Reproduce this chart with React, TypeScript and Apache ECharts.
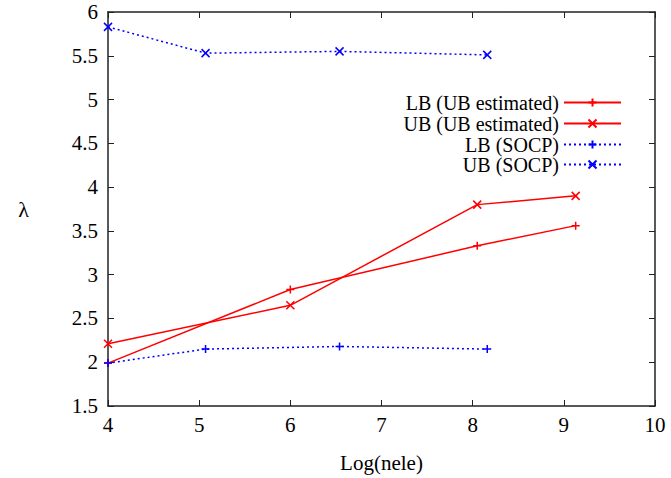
import React, { useEffect, useRef } from "react";
import * as echarts from "echarts";

const lbEstX = [4, 6, 8.05, 9.13];
const lbEstY = [1.99, 2.83, 3.33, 3.56];
const ubEstX = [4, 6, 8.05, 9.13];
const ubEstY = [2.21, 2.65, 3.8, 3.9];
const lbSocpX = [4, 5.07, 6.54, 8.16];
const lbSocpY = [1.99, 2.15, 2.18, 2.15];
const ubSocpX = [4, 5.07, 6.54, 8.16];
const ubSocpY = [5.83, 5.53, 5.55, 5.51];

const seriesNames = ["LB (UB estimated)", "UB (UB estimated)", "LB (SOCP)", "UB (SOCP)"];

const PLUS = "path://M0,-5L0,5M-5,0L5,0";
const CROSS = "path://M-5,-5L5,5M-5,5L5,-5";

export default function App() {
  const ref = useRef<HTMLDivElement>(null);
  useEffect(() => {
    if (!ref.current) return;
    const chart = echarts.init(ref.current, undefined, { renderer: "svg" });
    const font = "Liberation Serif";
    const axisLine = { lineStyle: { color: "#222", width: 1.5 } };
    const mk = (name: string, xs: number[], ys: number[], color: string, symbol: string, type: string) => ({
      name,
      type: "line",
      data: xs.map((x, i) => [x, ys[i]]),
      symbol,
      symbolSize: 8,
      showSymbol: true,
      lineStyle: { color, width: 1.5, type: type === "dotted" ? [2, 3] : "solid" },
      itemStyle: { color, borderColor: color, borderWidth: 1.5 },
      emphasis: { disabled: true },
    });
    const legendTops = [87.5, 108.5, 129.5, 149.5];
    chart.setOption({
      animation: false,
      backgroundColor: "#fff",
      textStyle: { fontFamily: font },
      grid: { left: 108, right: 16, top: 12, bottom: 72, containLabel: false },
      legend: seriesNames.map((n, i) => ({
        data: [n],
        orient: "vertical",
        align: "right",
        right: 44,
        top: legendTops[i],
        itemWidth: 57,
        itemHeight: 10,
        selectedMode: false,
        textStyle: { fontFamily: font, fontSize: 20, lineHeight: 18, color: "#000" },
      })),
      xAxis: [
        {
          type: "value",
          min: 4,
          max: 10,
          interval: 1,
          position: "bottom",
          name: "Log(nele)",
          nameLocation: "middle",
          nameGap: 46,
          nameTextStyle: { fontFamily: font, fontSize: 21, color: "#000" },
          axisLine,
          axisTick: { inside: true, length: 6, lineStyle: { color: "#222" } },
          axisLabel: { fontFamily: font, fontSize: 21, color: "#000", margin: 8 },
          splitLine: { show: false },
        },
        {
          type: "value",
          min: 4,
          max: 10,
          interval: 1,
          position: "top",
          axisLine,
          axisTick: { inside: true, length: 6, lineStyle: { color: "#222" } },
          axisLabel: { show: false },
          splitLine: { show: false },
        },
      ],
      yAxis: [
        {
          type: "value",
          min: 1.5,
          max: 6,
          interval: 0.5,
          position: "left",
          name: "λ",
          nameLocation: "middle",
          nameRotate: 0,
          nameGap: 79,
          nameTextStyle: { fontFamily: font, fontSize: 22, color: "#000" },
          axisLine,
          axisTick: { inside: true, length: 6, lineStyle: { color: "#222" } },
          axisLabel: { fontFamily: font, fontSize: 21, color: "#000", margin: 10 },
          splitLine: { show: false },
        },
        {
          type: "value",
          min: 1.5,
          max: 6,
          interval: 0.5,
          position: "right",
          axisLine,
          axisTick: { inside: true, length: 6, lineStyle: { color: "#222" } },
          axisLabel: { show: false },
          splitLine: { show: false },
        },
      ],
      series: [
        mk(seriesNames[0], lbEstX, lbEstY, "#ff0000", PLUS, "solid"),
        mk(seriesNames[1], ubEstX, ubEstY, "#ff0000", CROSS, "solid"),
        mk(seriesNames[2], lbSocpX, lbSocpY, "#0000ff", PLUS, "dotted"),
        mk(seriesNames[3], ubSocpX, ubSocpY, "#0000ff", CROSS, "dotted"),
      ],
    });
    return () => chart.dispose();
  }, []);
  return <div ref={ref} style={{ width: 671, height: 478, position: "absolute", left: 0, top: 0 }} />;
}
